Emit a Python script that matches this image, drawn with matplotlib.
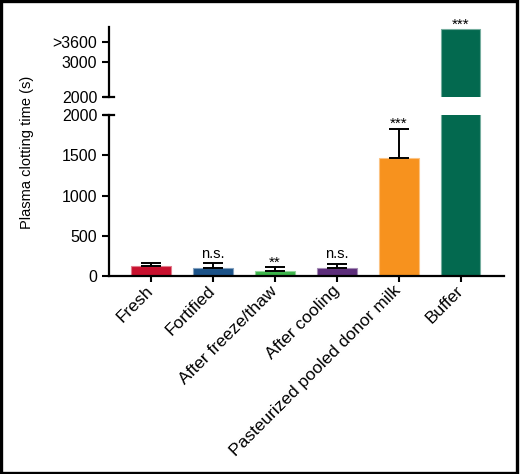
"""Plasma clotting time bar chart with broken y axis."""

import numpy as np
import matplotlib
matplotlib.use("Agg")
import matplotlib.pyplot as plt
from matplotlib.patches import Rectangle
from matplotlib.colors import to_rgb

plt.rcParams["font.family"] = ["Liberation Sans", "DejaVu Sans"]

# Data
groups = ["Fresh", "Fortified", "After freeze/thaw", "After cooling",
          "Pasteurized pooled donor milk", "Buffer"]
means = [122, 105, 65, 95, 1472, 3950]
sd_up = [45, 55, 47, 58, 355, 0]
signif = ["", "n.s.", "**", "n.s.", "***", "***"]
colors = ["#C8102E", "#1B5288", "#3CB54A", "#5C2D7A", "#F7921E", "#03694F"]

lower_ticks = [0, 500, 1000, 1500, 2000]
upper_ticks = [2000, 3000, 3600]
upper_ticklabels = ["2000", "3000", ">3600"]

W, H = 520, 474
fig = plt.figure(figsize=(W / 100, H / 100), dpi=100)

x0, x1 = 109, 504
ax = fig.add_axes([x0 / W, 1 - 276 / H, (x1 - x0) / W, (276 - 115) / H])
axu = fig.add_axes([x0 / W, 1 - 96.7 / H, (x1 - x0) / W, (96.7 - 26.7) / H])

x = np.arange(len(groups))
edge = [tuple(0.55 * np.array(to_rgb(c)) + 0.45) for c in colors]

for a in (ax, axu):
    a.bar(x, means, width=0.64, color=colors, edgecolor=edge, linewidth=0.8, zorder=2)
    a.set_xlim(-0.68, 5.70)
    for s in ("top", "right"):
        a.spines[s].set_visible(False)
    a.spines["left"].set_linewidth(1.6)
    a.tick_params(axis="y", length=5, width=1.5, labelsize=11.5, pad=3.5)

# error bars (upper only)
err_idx = [i for i in range(len(groups)) if sd_up[i] > 0]
ax.errorbar(x[err_idx], [means[i] for i in err_idx],
            yerr=[[0] * len(err_idx), [sd_up[i] for i in err_idx]],
            fmt="none", ecolor="black", elinewidth=1.4, capsize=7.5, capthick=1.4, zorder=3)

ax.set_ylim(0, 2000)
ax.set_yticks(lower_ticks)
ax.spines["bottom"].set_linewidth(1.6)
ax.set_xticks(x)
ax.set_xticklabels(groups, rotation=45, ha="right", va="center", rotation_mode="anchor",
                   fontsize=12.5)
ax.tick_params(axis="x", length=4, width=1.5, pad=5)

axu.set_ylim(2000, 4030)
axu.set_yticks(upper_ticks)
axu.set_yticklabels(upper_ticklabels)
axu.spines["bottom"].set_visible(False)
axu.set_xticks([])

# break caps on the axis ends
ax.plot([-0.012, 0.012], [1, 1], transform=ax.transAxes, color="black", lw=1.6, clip_on=False)
axu.plot([-0.012, 0.012], [0, 0], transform=axu.transAxes, color="black", lw=1.6, clip_on=False)

# significance marks
for i, lab in enumerate(signif):
    if not lab:
        continue
    if lab == "n.s.":
        size, off = 10.5, 4
    else:
        size, off = 11, 0.5
    if means[i] > 2000:
        axu.annotate(lab, (x[i], means[i]), xytext=(0, off), textcoords="offset points",
                     ha="center", va="baseline", fontsize=size, annotation_clip=False)
    else:
        ax.annotate(lab, (x[i], means[i] + sd_up[i]), xytext=(0, off), textcoords="offset points",
                    ha="center", va="baseline", fontsize=size)

fig.text(27 / W, 1 - 152 / H, "Plasma clotting time (s)", rotation=90,
         ha="center", va="center", fontsize=10.5,
         family=["Liberation Sans Narrow", "Liberation Sans", "DejaVu Sans"])

fig.patches.append(Rectangle((0.002, 0.003), 0.992, 0.994, transform=fig.transFigure,
                             fill=False, edgecolor="black", linewidth=2.4))

fig.savefig("out.png", dpi=100)
